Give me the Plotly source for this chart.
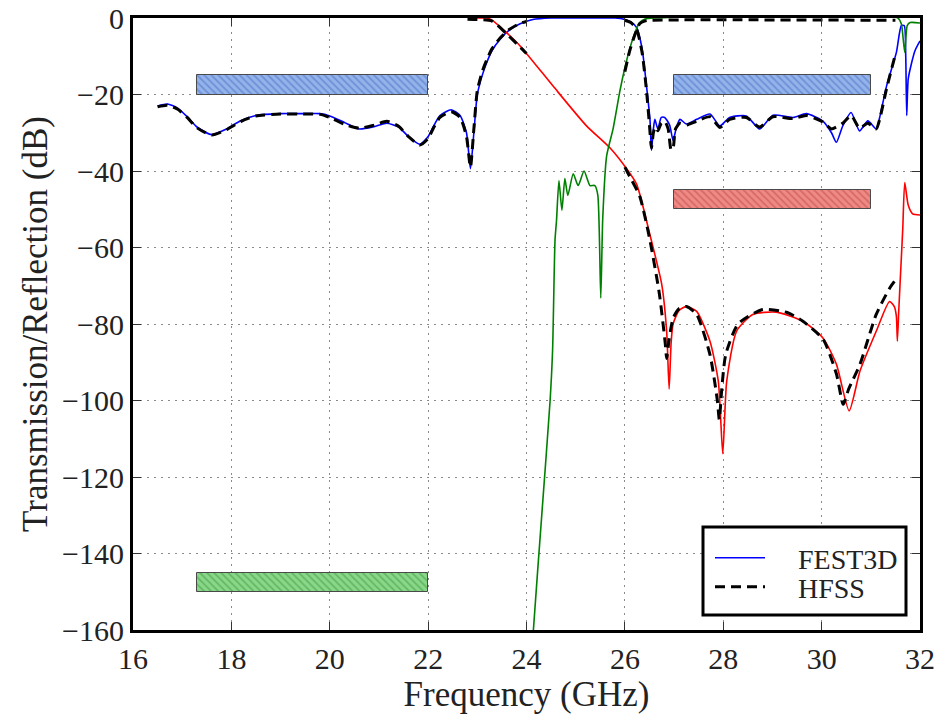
import plotly.graph_objects as go

# ---- FEST3D: common-port reflection (dB) ----
freq_s11 = [16.5, 16.7, 16.9, 17.1, 17.3, 17.6, 17.9, 18.2, 18.5, 19.0, 19.5, 19.8, 20.0, 20.3, 20.6,
            20.9, 21.16, 21.4, 21.6, 21.83, 22.0, 22.1, 22.24, 22.47, 22.65, 22.78, 22.86, 22.93, 23.0, 23.1,
            23.19, 23.3, 23.46, 23.65, 23.87, 24.13, 24.5, 25.0, 25.5, 25.8, 26.0, 26.12, 26.24, 26.35, 26.44,
            26.51, 26.54, 26.58, 26.61, 26.67, 26.74, 26.81, 26.91, 26.98, 27.05, 27.12, 27.25, 27.46, 27.73, 27.93,
            28.13, 28.47, 28.74, 29.01, 29.42, 29.69, 30.03, 30.2, 30.3, 30.43, 30.6, 30.77, 30.94, 31.11, 31.18,
            31.32, 31.52, 31.62, 31.68, 31.71, 31.73, 31.76, 31.83, 31.9, 32.0]
s11_db = [-23.0, -22.5, -23.5, -25.8, -28.5, -30.5, -29.0, -26.8, -25.5, -25.0, -25.0, -25.0, -25.6, -27.3, -29.0,
          -28.4, -27.5, -28.5, -31.0, -33.0, -31.0, -28.5, -25.5, -24.0, -25.5, -30.0, -39.4, -30.0, -20.0, -15.0,
          -11.7, -8.5, -5.6, -3.2, -1.5, -0.4, 0.0, 0.0, 0.0, 0.0, -0.4, -1.0, -2.5, -8.0, -17.8,
          -26.5, -34.6, -29.0, -26.5, -29.0, -26.0, -26.0, -28.0, -32.0, -28.5, -26.5, -27.7, -26.5, -25.1, -28.2,
          -26.0, -25.6, -29.0, -25.4, -26.0, -25.0, -27.0, -30.0, -32.5, -28.2, -24.7, -29.5, -26.9, -29.0, -26.0,
          -17.8, -9.0, -2.0, -2.0, -10.0, -25.5, -16.0, -11.7, -8.5, -6.0]

# ---- FEST3D: transmission to the low-band port (dB) ----
freq_s21_lo = [23.0, 23.2, 23.29, 23.6, 23.87, 24.54, 25.22, 25.7, 26.04, 26.24, 26.51, 26.75, 26.85, 26.9,
               26.94, 26.98, 27.1, 27.25, 27.46, 27.73, 27.9, 27.99, 28.07, 28.27, 28.6, 29.08, 29.62, 30.03, 30.3,
               30.56, 30.78, 31.11, 31.38, 31.48, 31.52, 31.54, 31.57, 31.6, 31.65, 31.69, 31.76, 31.85, 32.0]
s21_lo_db = [0.0, 0.0, -0.5, -3.9, -7.3, -17.8, -28.2, -34.0, -39.5, -43.5, -56.7, -69.7, -82.0, -97.0,
             -85.0, -80.0, -76.5, -75.4, -76.7, -84.5, -95.0, -113.9, -95.0, -81.9, -77.5, -76.9, -79.3, -83.7, -90.5,
             -102.7, -92.3, -81.9, -74.1, -75.5, -78.0, -84.5, -76.0, -68.0, -55.0, -43.0, -48.9, -51.2, -51.5]

# ---- FEST3D: transmission to the high-band port (dB) ----
freq_s21_hi = [24.05, 24.14, 24.31, 24.48, 24.53, 24.58, 24.61, 24.66, 24.72, 24.78, 24.84, 24.95, 25.05, 25.17,
               25.29, 25.39, 25.45, 25.51, 25.55, 25.63, 25.76, 25.9, 26.0, 26.1, 26.2, 26.3, 26.4, 26.6, 31.55,
               31.62, 31.69, 31.74, 31.8, 32.0]
s21_hi_db = [-180.0, -160.0, -130.0, -100.0, -87.0, -58.0, -53.0, -42.5, -50.3, -42.0, -46.4, -40.7, -43.8, -40.0,
             -43.8, -43.8, -46.3, -73.2, -52.4, -36.0, -29.0, -19.0, -13.0, -8.0, -4.0, -1.2, -0.3, 0.0, 0.0,
             -1.5, -9.0, -2.0, -1.2, -1.3]

# ---- HFSS reference (simulated in two frequency windows) ----
hfss_s11_f1 = [16.5, 16.7, 16.9, 17.1, 17.3, 17.6, 17.9, 18.2, 18.5, 19.0, 19.5, 19.8, 20.0, 20.3, 20.6, 20.9,
               21.16, 21.4, 21.6, 21.83, 22.0, 22.1, 22.24, 22.47, 22.65, 22.78, 22.86, 22.93, 23.0, 23.1, 23.19,
               23.3, 23.46, 23.65, 23.87, 24.0]
hfss_s11_db1 = [-23.2, -22.8, -23.8, -26.0, -28.7, -30.6, -29.2, -27.0, -25.6, -25.1, -25.1, -25.2, -26.0, -27.8,
                -28.8, -28.0, -27.0, -28.3, -31.0, -33.2, -31.5, -29.0, -26.0, -24.5, -26.0, -31.0, -39.0, -29.0,
                -19.0, -14.0, -11.0, -8.0, -5.3, -3.0, -1.4, -0.9]
hfss_s11_f2 = [26.0, 26.12, 26.24, 26.35, 26.44, 26.5, 26.54, 26.58, 26.62, 26.67, 26.74, 26.81, 26.88, 26.94,
               26.98, 27.03, 27.12, 27.25, 27.46, 27.73, 27.93, 28.13, 28.47, 28.74, 29.01, 29.42, 29.69, 30.03,
               30.2, 30.3, 30.43, 30.6, 30.77, 30.94, 31.11, 31.18, 31.32, 31.5]
hfss_s11_db2 = [-0.6, -1.2, -3.0, -9.0, -19.0, -28.0, -34.0, -30.0, -28.5, -29.5, -27.5, -27.0, -29.0, -34.5,
                -34.0, -29.0, -27.5, -28.0, -27.0, -25.8, -28.6, -26.5, -26.0, -28.5, -25.8, -26.3, -25.5, -27.2,
                -29.0, -28.5, -27.5, -25.5, -28.8, -27.5, -29.0, -26.5, -18.5, -9.5]
hfss_lo_f1 = [22.8, 23.0, 23.3, 23.6, 23.87, 24.0]
hfss_lo_db1 = [-0.3, -0.4, -0.8, -4.2, -7.6, -9.3]
hfss_lo_f2 = [26.0, 26.1, 26.3, 26.5, 26.7, 26.82, 26.85, 26.9, 26.98, 27.1, 27.25, 27.46, 27.73, 27.88, 27.92,
              27.97, 28.05, 28.3, 28.8, 29.3, 29.62, 30.03, 30.3, 30.44, 30.55, 30.78, 31.11, 31.38, 31.5]
hfss_lo_db2 = [-39.0, -41.5, -46.5, -57.5, -72.0, -85.0, -89.0, -84.0, -78.5, -76.0, -75.4, -77.5, -88.0, -100.0,
               -105.0, -97.0, -88.0, -80.0, -76.2, -77.0, -79.3, -84.0, -93.0, -101.0, -97.0, -90.5, -77.5, -70.7,
               -68.5]
hfss_hi_f2 = [26.0, 26.1, 26.2, 26.3, 26.4, 26.5, 31.5]
hfss_hi_db2 = [-14.0, -8.5, -4.5, -1.5, -0.8, -0.6, -0.6]

# ---- Specification masks: (start GHz, stop GHz, lower dB, upper dB) ----
mask_rl = [(17.3, 22.0, -20.0, -15.0), (27.0, 31.0, -20.0, -15.0)]
mask_iso_hi = [(27.0, 31.0, -50.0, -45.0)]
mask_iso_lo = [(17.3, 22.0, -150.0, -145.0)]

x_ticks = [16, 18, 20, 22, 24, 26, 28, 30, 32]
y_ticks = [0, -20, -40, -60, -80, -100, -120, -140, -160]

FONT = "Liberation Serif"
INK = "#222"

# plot-area edges in page pixels
L, R, T, B = 133, 920, 18, 630
PW, PH = R - L, B - T

fig = go.Figure()


def add_mask(spec, fill, hatch):
    fig.add_trace(go.Bar(
        x=[(a + b) / 2 for a, b, _, _ in spec],
        width=[b - a for a, b, _, _ in spec],
        base=[lo for _, _, lo, _ in spec],
        y=[hi - lo for _, _, lo, hi in spec],
        marker=dict(color=fill, line=dict(color="#4a4a4a", width=1),
                    pattern=dict(shape="\\", fillmode="overlay", bgcolor=fill, fgcolor=hatch,
                                 size=5, solidity=0.35)),
        showlegend=False, hoverinfo="skip",
    ))


add_mask(mask_rl, "#93b3ea", "#4a6fc4")
add_mask(mask_iso_hi, "#ee8a86", "#c24842")
add_mask(mask_iso_lo, "#8ad68a", "#3c9e3c")

spline = dict(shape="spline", smoothing=0.6)

fig.add_trace(go.Scatter(x=freq_s11, y=s11_db, mode="lines", name="\u2002\u2002FEST3D", legend="legend",
                         line=dict(color="#0000ff", width=1.6, **spline)))
fig.add_trace(go.Scatter(x=freq_s21_lo, y=s21_lo_db, mode="lines", showlegend=False,
                         line=dict(color="#ff0000", width=1.6, **spline)))
fig.add_trace(go.Scatter(x=freq_s21_hi, y=s21_hi_db, mode="lines", showlegend=False,
                         line=dict(color="#008000", width=1.6, **spline)))

hx, hy = [], []
for f, d in [(hfss_s11_f1, hfss_s11_db1), (hfss_s11_f2, hfss_s11_db2), (hfss_lo_f1, hfss_lo_db1),
             (hfss_lo_f2, hfss_lo_db2), (hfss_hi_f2, hfss_hi_db2)]:
    hx += list(f) + [None]
    hy += list(d) + [None]
fig.add_trace(go.Scatter(x=hx, y=hy, mode="lines", name="\u2002\u2002HFSS", legend="legend2",
                         connectgaps=False,
                         line=dict(color="black", width=3, dash="10px,6px", **spline)))

axis_common = dict(
    showline=True, linecolor="black", linewidth=3, mirror="allticks", layer="above traces",
    ticks="inside", ticklen=8, tickwidth=1, tickcolor="#333",
    showgrid=True, gridcolor="#8a8a8a", gridwidth=1, griddash="2px,5px",
    zeroline=False, automargin=False, ticklabeloverflow="allow",
    tickfont=dict(family=FONT, size=30, color=INK),
)

fig.update_xaxes(range=[16, 32], tickvals=x_ticks, ticktext=[str(v) for v in x_ticks],
                 title=dict(text="Frequency (GHz)", font=dict(family=FONT, size=35, color=INK), standoff=6),
                 **axis_common)
fig.update_yaxes(range=[-160, 0], tickvals=y_ticks,
                 ticktext=[("\u2212" + str(-v)) if v < 0 else str(v) for v in y_ticks],
                 title=dict(text="Transmission/Reflection (dB)", font=dict(family=FONT, size=35, color=INK),
                            standoff=4),
                 **axis_common)

# legend frame
fig.add_shape(type="rect", xref="paper", yref="paper",
              x0=(703 - L) / PW, x1=(906 - L) / PW, y0=(B - 615) / PH, y1=(B - 527) / PH,
              fillcolor="white", line=dict(color="black", width=3), layer="above")

legend_style = dict(xanchor="left", yanchor="top", bgcolor="rgba(0,0,0,0)", borderwidth=0,
                    font=dict(family=FONT, size=28, color=INK), itemwidth=50)

fig.update_layout(
    width=940, height=714,
    margin=dict(l=L, r=940 - R, t=T, b=714 - B),
    plot_bgcolor="white", paper_bgcolor="white",
    barmode="overlay", bargap=0,
    legend=dict(x=(710 - L) / PW, y=(B - 533) / PH, **legend_style),
    legend2=dict(x=(710 - L) / PW, y=(B - 562) / PH, **legend_style),
)

fig.write_html("out.html")
